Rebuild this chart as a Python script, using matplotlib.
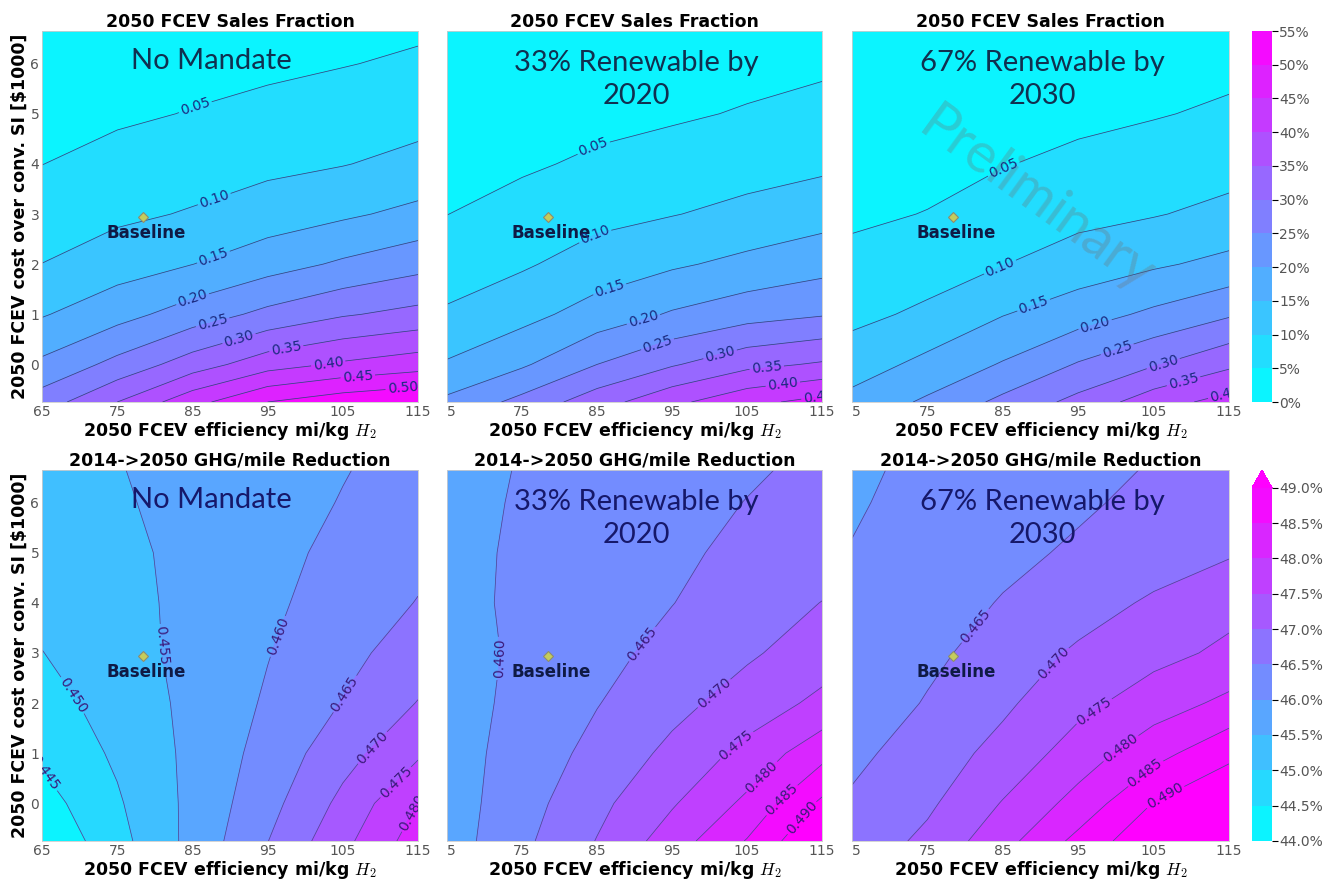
import numpy as np
import matplotlib
matplotlib.use("Agg")
import matplotlib.pyplot as plt
from matplotlib.ticker import FuncFormatter

plt.rcParams["mathtext.fontset"] = "cm"

# grid: FCEV efficiency (columns) x FCEV extra cost (rows)
eff = [65, 75, 85, 95, 105, 115]
cost = [-0.75, 0, 1, 2, 3, 4, 5, 6, 6.65]

# 2050 FCEV sales fraction
sales_no_mandate = [
    [0.275, 0.350, 0.433, 0.500, 0.530, 0.548],
    [0.210, 0.265, 0.325, 0.379, 0.407, 0.427],
    [0.146, 0.182, 0.223, 0.263, 0.295, 0.315],
    [0.1005, 0.127, 0.1495, 0.179, 0.2075, 0.233],
    [0.075, 0.090, 0.104, 0.124, 0.142, 0.163],
    [0.0495, 0.0646, 0.077, 0.088, 0.098, 0.114],
    [0.0347, 0.043, 0.052, 0.062, 0.073, 0.0826],
    [0.0245, 0.030, 0.036, 0.041, 0.048, 0.057],
    [0.0194, 0.024, 0.029, 0.0325, 0.038, 0.044],
]
sales_rps33_2020 = [
    [0.2105, 0.265, 0.328, 0.3875, 0.436, 0.467],
    [0.155, 0.193, 0.250, 0.295, 0.336, 0.356],
    [0.106, 0.134, 0.171, 0.205, 0.230, 0.246],
    [0.076, 0.094, 0.122, 0.143, 0.163, 0.182],
    [0.0495, 0.067, 0.086, 0.098, 0.113, 0.130],
    [0.0337, 0.0437, 0.0575, 0.069, 0.0805, 0.090],
    [0.0231, 0.030, 0.0372, 0.044, 0.0535, 0.064],
    [0.0158, 0.0207, 0.025, 0.0296, 0.036, 0.0423],
    [0.0123, 0.0162, 0.0194, 0.0229, 0.0283, 0.0335],
]
sales_rps67_2030 = [
    [0.166, 0.208, 0.2625, 0.315, 0.378, 0.419],
    [0.125, 0.164, 0.204, 0.254, 0.296, 0.340],
    [0.0877, 0.109, 0.148, 0.177, 0.210, 0.244],
    [0.0626, 0.0785, 0.0987, 0.123, 0.143, 0.1636],
    [0.042, 0.0514, 0.073, 0.086, 0.097, 0.113],
    [0.0296, 0.0365, 0.048, 0.060, 0.0713, 0.082],
    [0.0209, 0.0256, 0.0338, 0.0397, 0.047, 0.057],
    [0.0148, 0.018, 0.0237, 0.0275, 0.033, 0.039],
    [0.0119, 0.0143, 0.019, 0.0217, 0.0262, 0.0313],
]

# 2014->2050 GHG/mile reduction
ghg_no_mandate = [
    [0.4405, 0.4483, 0.4565, 0.4649, 0.4736, 0.4825],
    [0.4429, 0.4494, 0.4563, 0.4633, 0.4713, 0.4801],
    [0.4460, 0.4508, 0.4562, 0.4618, 0.4681, 0.4742],
    [0.4480, 0.4521, 0.4562, 0.4606, 0.4652, 0.4702],
    [0.4499, 0.4531, 0.4563, 0.4598, 0.4636, 0.4673],
    [0.4515, 0.4535, 0.4562, 0.4591, 0.4621, 0.4652],
    [0.4520, 0.4538, 0.4563, 0.4587, 0.4611, 0.4637],
    [0.4525, 0.4545, 0.4564, 0.4583, 0.4602, 0.4622],
    [0.4530, 0.4548, 0.4565, 0.4581, 0.4598, 0.4615],
]
ghg_rps33_2020 = [
    [0.4575, 0.4639, 0.4702, 0.4775, 0.4853, 0.4955],
    [0.4575, 0.4630, 0.4687, 0.4745, 0.4811, 0.4910],
    [0.4578, 0.4620, 0.4665, 0.4712, 0.4765, 0.4833],
    [0.4578, 0.4613, 0.4648, 0.4685, 0.4722, 0.4762],
    [0.4578, 0.4609, 0.4636, 0.4664, 0.4693, 0.4725],
    [0.4583, 0.4610, 0.4630, 0.4649, 0.4675, 0.4701],
    [0.4584, 0.4608, 0.4625, 0.4642, 0.4660, 0.4676],
    [0.4583, 0.4605, 0.4620, 0.4636, 0.4651, 0.4667],
    [0.4581, 0.4603, 0.4617, 0.4631, 0.4645, 0.4659],
]
ghg_rps67_2030 = [
    [0.4666, 0.4712, 0.4782, 0.4864, 0.4942, 0.4990],
    [0.4657, 0.4691, 0.4753, 0.4818, 0.4902, 0.4945],
    [0.4638, 0.4674, 0.4716, 0.4773, 0.4832, 0.4888],
    [0.4616, 0.4654, 0.4691, 0.4736, 0.4775, 0.4812],
    [0.4615, 0.4638, 0.4673, 0.4707, 0.4735, 0.4760],
    [0.4608, 0.4628, 0.4653, 0.4679, 0.4707, 0.4735],
    [0.4602, 0.4622, 0.4638, 0.4657, 0.4676, 0.4695],
    [0.4595, 0.4615, 0.4631, 0.4643, 0.4662, 0.4680],
    [0.4592, 0.4610, 0.4625, 0.4638, 0.4653, 0.4668],
]

sales_levels = [0.00, 0.05, 0.10, 0.15, 0.20, 0.25, 0.30, 0.35, 0.40, 0.45, 0.50, 0.55]
ghg_levels = [0.440, 0.445, 0.450, 0.455, 0.460, 0.465, 0.470, 0.475, 0.480, 0.485, 0.490]

scenarios = ["No Mandate", "33% Renewable by\n2020", "67% Renewable by\n2030"]
baseline_eff = 78.4
baseline_cost = 2.95

# where the contour labels sit in each panel
sales_label_pos = [
    [(85.3, 5.17), (87.8, 3.34), (87.6, 2.22), (84.9, 1.36), (87.6, 0.89),
     (91.3, 0.46), (97.5, 0.3), (103, 0.07), (107, -0.26), (113, -0.53)],
    [(84.7, 4.27), (84.9, 2.52), (86.7, 1.49), (91.2, 0.89), (93, 0.43),
     (101.4, 0.2), (107.6, -0.03), (109.8, -0.43), (114.5, -0.63)],
    [(85, 3.94), (84.6, 1.95), (89.3, 1.09), (97.3, 0.76), (100.1, 0.33),
     (106.3, 0.0), (109, -0.36), (114.5, -0.63)],
]
ghg_label_pos = [
    [(65.3, 0.6), (69, 2.15), (81.1, 3.15), (96.2, 3.34), (105.1, 2.2),
     (108.6, 1.16), (112.2, 0.4), (114.8, -0.23)],
    [(71.6, 2.9), (91, 3.18), (100.3, 2.25), (103.4, 1.19), (106.5, 0.6),
     (109.6, 0.07), (112.7, -0.34)],
    [(80.2, 3.68), (91.3, 2.85), (97, 1.86), (100.5, 1.13), (103.6, 0.66),
     (106.3, 0.2)],
]

fig = plt.figure(figsize=(13.27, 8.82), dpi=100)
lefts = [0.0317, 0.3369, 0.6421]
widths = [0.2833, 0.2826, 0.2841]
bottoms = [0.5442, 0.0465]
height = 0.4206

rows = [
    dict(data=[sales_no_mandate, sales_rps33_2020, sales_rps67_2030],
         levels=sales_levels, extend="neither", title="2050 FCEV Sales Fraction",
         fmt="%.2f", label_pos=sales_label_pos, line_c="#2d4a80",
         lab_c="#1b2a80", txt_c="#103050",
         cfmt=lambda v, p: f"{v * 100:.0f}%"),
    dict(data=[ghg_no_mandate, ghg_rps33_2020, ghg_rps67_2030],
         levels=ghg_levels, extend="max", title="2014->2050 GHG/mile Reduction",
         fmt="%.3f", label_pos=ghg_label_pos, line_c="#4a4a96",
         lab_c="#3a1a7a", txt_c="#16186a",
         cfmt=lambda v, p: f"{v * 100:.1f}%"),
]

for r, row in enumerate(rows):
    for c in range(3):
        ax = fig.add_axes([lefts[c], bottoms[r], widths[c], height])
        z = np.array(row["data"][c])
        cf = ax.contourf(eff, cost, z, levels=row["levels"], cmap="cool",
                         extend=row["extend"])
        cs = ax.contour(eff, cost, z, levels=row["levels"], colors=row["line_c"],
                        linewidths=0.55)
        ax.clabel(cs, fmt=row["fmt"], fontsize=10, colors=row["lab_c"],
                  manual=row["label_pos"][c], inline=True, inline_spacing=2)

        ax.plot(baseline_eff, baseline_cost, marker="D", ms=5.5, mfc="#c4cc5c",
                mec="#8c8c70", mew=0.8, ls="none")
        ax.text(73.6, 2.62, "Baseline", fontsize=12, fontweight="bold",
                color="#0f1a45", va="center", ha="left")

        ax.text(87.5 if c == 0 else 90.2, 6.06 if c == 0 else 5.68, scenarios[c],
                family=["Lato", "DejaVu Sans"], fontsize=21, color=row["txt_c"],
                ha="center", va="center", linespacing=1.35)

        ax.set_title(row["title"], fontsize=12.5, fontweight="bold", pad=3)
        ax.set_xticks(eff)
        labels = [str(v) for v in eff]
        if c > 0:
            labels[0] = "5"
        ax.set_xticklabels(labels)
        if c > 0:
            ax.get_xticklabels()[0].set_ha("left")
        ax.set_yticks([0, 1, 2, 3, 4, 5, 6])
        if c == 0:
            ax.set_ylabel(r"2050 FCEV cost over conv. SI [\$1000]", fontsize=12.5,
                          fontweight="bold", labelpad=1)
        else:
            ax.set_yticklabels([])
        ax.set_xlabel(r"2050 FCEV efficiency mi/kg $H_2$", fontsize=12.5,
                      fontweight="bold", labelpad=1)
        ax.tick_params(length=0, pad=2, labelsize=10, labelcolor="#555555")
        for s in ax.spines.values():
            s.set_color("#cccccc")
            s.set_linewidth(0.6)

        if r == 0 and c == 2:
            ax.text(89.5, 3.28, "Preliminary", family=["Lato", "DejaVu Sans"],
                    fontsize=40, color="#707070", alpha=0.3,
                    rotation=-36, ha="center", va="center", rotation_mode="anchor")

    cax = fig.add_axes([0.9435, bottoms[r], 0.0151, height])
    cb = fig.colorbar(cf, cax=cax, ticks=row["levels"])
    cb.ax.yaxis.set_major_formatter(FuncFormatter(row["cfmt"]))
    cb.ax.tick_params(labelsize=10, labelcolor="#555555", length=4, pad=1)
    cb.outline.set_visible(False)

fig.savefig("out.png", dpi=100)
